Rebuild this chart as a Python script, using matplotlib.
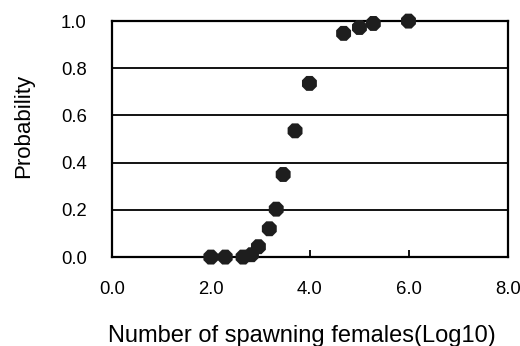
import matplotlib
matplotlib.use("Agg")
import matplotlib.pyplot as plt

# log10 number of spawning females vs probability
log_females = [2.0, 2.29, 2.65, 2.82, 2.96, 3.18, 3.32, 3.46, 3.70, 3.99, 4.68, 5.0, 5.28, 5.99]
probability = [0.0, 0.0, 0.0, 0.01, 0.044, 0.12, 0.203, 0.35, 0.535, 0.736, 0.948, 0.973, 0.99, 1.0]

x_ticks = [0, 2, 4, 6, 8]
y_ticks = [0.0, 0.2, 0.4, 0.6, 0.8, 1.0]

plt.rcParams['font.family'] = ['Liberation Sans', 'DejaVu Sans']

fig = plt.figure(figsize=(5.2, 3.46), dpi=100)
ax = fig.add_axes([0.215, 0.257, 0.762, 0.682])

for y in y_ticks[1:-1]:
    ax.axhline(y, color='black', lw=1.3, zorder=1)

ax.scatter(log_females, probability, s=135, marker='8', color='#1e1e1e',
           edgecolors='none', zorder=3, clip_on=False)

ax.set_xlim(0, 8)
ax.set_ylim(0, 1.0)
ax.set_xticks(x_ticks)
ax.set_xticklabels(['%.1f' % v for v in x_ticks])
ax.set_yticks(y_ticks)
ax.set_yticklabels(['%.1f' % v for v in y_ticks])

ax.tick_params(axis='x', direction='in', length=5, width=1.3, pad=17, labelsize=13.3)
ax.tick_params(axis='y', length=0, pad=18, labelsize=13.3)
for sp in ax.spines.values():
    sp.set_linewidth(1.6)
    sp.set_color('black')

fig.text(0.581, 0.0116, 'Number of spawning females(Log10)', fontsize=17,
         ha='center', va='baseline')
fig.text(0.046, 0.636, 'Probability', fontsize=16, rotation=90,
         ha='center', va='center')

fig.savefig('out.png', dpi=100)
